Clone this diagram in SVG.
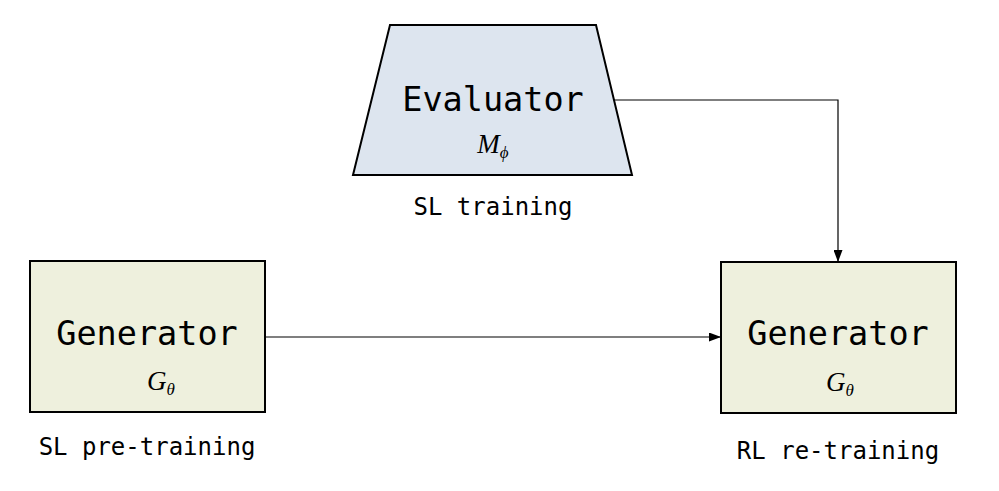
<svg xmlns="http://www.w3.org/2000/svg" width="999" height="491" viewBox="0 0 999 491">
<defs>
<marker id="arr" markerWidth="12" markerHeight="9" refX="12" refY="4.5" orient="auto" markerUnits="userSpaceOnUse">
<path d="M0,0 L12,4.5 L0,9 Z" fill="#000"/>
</marker>
<style>
.node{stroke:#000;stroke-width:2}
.eval{fill:#dde5ef}
.gen{fill:#eef0dd}
.mono{font-family:"DejaVu Sans Mono",monospace;fill:#000}
.title{font-size:33.5px}
.lbl{font-size:24px}
.math{font-family:"Liberation Serif",serif;font-style:italic;font-size:27px;fill:#000}
.sub{font-size:17px}
.conn{stroke:#000;stroke-width:1.2;fill:none}
</style>
</defs>
<rect width="999" height="491" fill="#fff"/>
<g id="connectors">
<path class="conn" d="M265,337 H721" marker-end="url(#arr)"/>
<path class="conn" d="M614,100 H838 V262" marker-end="url(#arr)"/>
</g>
<g id="evaluator">
<polygon class="node eval" points="390,25 596,25 632,175 353,175"/>
<text class="mono title" x="493" y="111" text-anchor="middle">Evaluator</text>
<text class="math" x="493" y="153" text-anchor="middle">M<tspan class="sub" dy="5">ϕ</tspan></text>
<text class="mono lbl" x="493" y="215" text-anchor="middle">SL training</text>
</g>
<g id="generator-sl">
<rect class="node gen" x="30" y="261" width="235" height="151"/>
<text class="mono title" x="147" y="345" text-anchor="middle">Generator</text>
<text class="math" x="161" y="390" text-anchor="middle">G<tspan class="sub" dy="5">θ</tspan></text>
<text class="mono lbl" x="147" y="455" text-anchor="middle">SL pre-training</text>
</g>
<g id="generator-rl">
<rect class="node gen" x="721" y="262" width="235" height="151"/>
<text class="mono title" x="838" y="345" text-anchor="middle">Generator</text>
<text class="math" x="840" y="391" text-anchor="middle">G<tspan class="sub" dy="5">θ</tspan></text>
<text class="mono lbl" x="838" y="459" text-anchor="middle">RL re-training</text>
</g>
</svg>
